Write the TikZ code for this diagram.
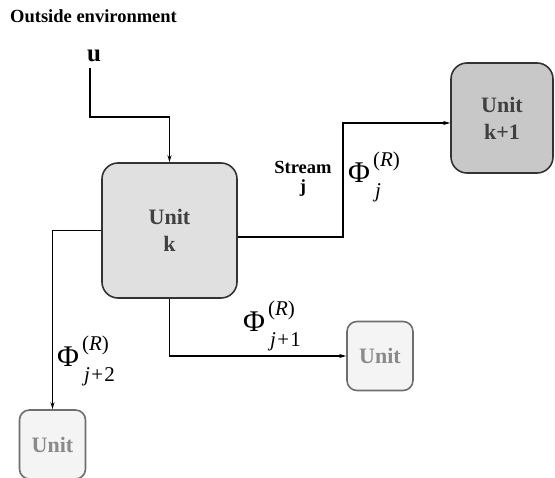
\documentclass[tikz,border=0pt]{standalone}
\usepackage{fontspec}
\setmainfont{Liberation Serif}
\usetikzlibrary{arrows.meta,calc}
\definecolor{unitk}{HTML}{E0E0E0}
\definecolor{unitnext}{HTML}{C8C8C8}
\definecolor{unitfar}{HTML}{F3F4F3}
\definecolor{edgedark}{HTML}{333333}
\definecolor{edgelight}{HTML}{6E6E6E}
\definecolor{txtdark}{HTML}{404040}
\definecolor{txtlight}{HTML}{8A8A8A}
% size of the indices on the flow symbols
\newcommand\idxsize{\fontsize{21}{21}\selectfont}
% flow symbol Phi with superscript (R) and subscript #1
\newcommand\flowsym[1]{Φ\kern3pt\rlap{\raisebox{16pt}{\idxsize(\textit{R})}}%
  \raisebox{-15pt}{\idxsize\kern2pt #1}}
\begin{document}
\begin{tikzpicture}[x=1pt,y=-1pt,
  unitbox/.style={draw=edgedark, line width=1.6pt, rounded corners=16pt,
    align=center, inner sep=0pt, text=txtdark,
    font=\fontsize{22}{27}\selectfont\bfseries},
  farunit/.style={unitbox, draw=edgelight, fill=unitfar, text=txtlight,
    rounded corners=10pt, minimum width=66pt, minimum height=69pt},
  flow/.style={line width=1.3pt, -{Stealth[length=7pt,width=4pt]}},
  phi/.style={font=\fontsize{30}{32}\selectfont, inner sep=0pt, anchor=base west},
  caption/.style={font=\fontsize{18.5}{19}\selectfont\bfseries, align=center}]
\useasboundingbox (0,0) rectangle (555,478);

% heading
\node[caption, anchor=base west, inner sep=0pt] (env) at (10,23) {Outside environment};

% units
\node[unitbox, fill=unitk, minimum width=135pt, minimum height=135pt] (k) at (169.5,230.5) {Unit\\k};
\node[unitbox, fill=unitnext, minimum width=102pt, minimum height=110pt] (k1) at (502,118) {Unit\\k+1};
\node[farunit] (br) at (380,356) {Unit};
\node[farunit] (bl) at (52.5,444.5) {Unit};

% input from the environment
\node[font=\fontsize{25}{27}\selectfont\bfseries, inner sep=0pt, anchor=base west] (u) at (87,62) {u};
\coordinate (ustart) at (90,68);
\coordinate (ubend) at (169.5,117);
\draw[flow] (ustart) |- (ubend) -- (k.north);

% stream j to unit k+1
\coordinate (sj) at (343,123);
\draw[flow] ([yshift=-6.5pt]k.east) -| (sj) -- (k1.west |- sj);
\node[caption] (stream) at (303,179) {Stream\\j};
\node[phi] (pj) at (348,183) {\flowsym{\textit{j}}};

% streams to the other units
\draw[flow] (k.south) |- (br.west);
\node[phi] (pj1) at (243,332) {\flowsym{\textit{j}\kern1.5pt+\kern1pt1}};
\draw[flow] (k.west) -| (bl.north);
\node[phi] (pj2) at (57,367) {\flowsym{\textit{j}\kern1.5pt+\kern1pt2}};
\end{tikzpicture}
\end{document}
